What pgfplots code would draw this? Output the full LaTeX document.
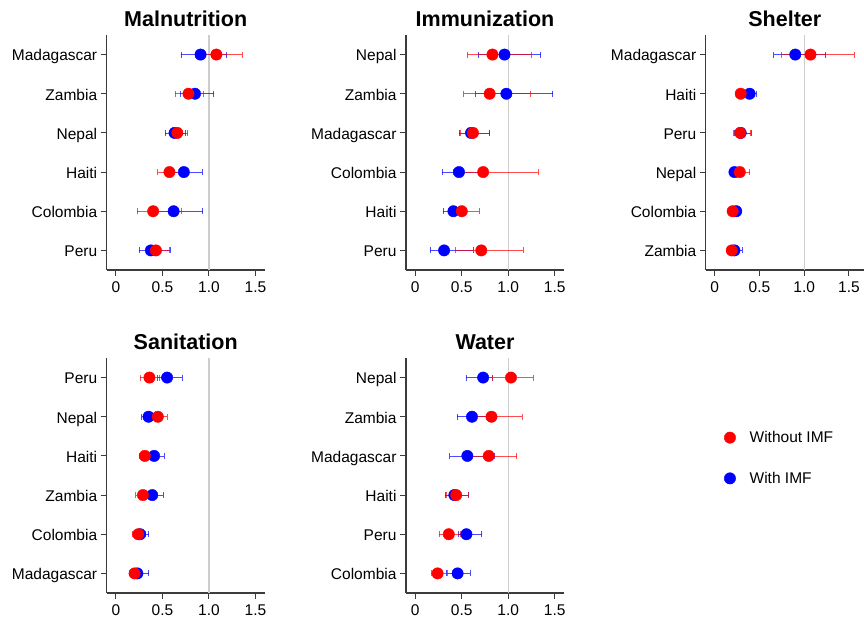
\documentclass[border=0pt]{standalone}
\usepackage{fontspec}
\setmainfont{Liberation Sans}
\usepackage{pgfplots}
\usepackage{pgfplotstable}
\pgfplotsset{compat=1.18}
\definecolor{axisgray}{RGB}{60,60,60}
\definecolor{refgray}{RGB}{205,205,205}

% y: category position (1 = bottom); r = Without IMF, b = With IMF; pt = estimate, lo/hi = interval
\pgfplotstableread{
y rpt rlo rhi bpt blo bhi
6 1.08 0.85 1.36 0.91 0.70 1.19
5 0.78 0.64 0.94 0.85 0.69 1.05
4 0.66 0.58 0.77 0.63 0.53 0.75
3 0.575 0.45 0.74 0.73 0.55 0.925
2 0.40 0.23 0.70 0.62 0.38 0.935
1 0.43 0.33 0.57 0.375 0.25 0.58
}\tabMal
\pgfplotstableread{
y rpt rlo rhi bpt blo bhi
6 0.83 0.56 1.25 0.96 0.68 1.35
5 0.80 0.52 1.24 0.98 0.65 1.48
4 0.62 0.48 0.80 0.60 0.47 0.80
3 0.73 0.41 1.32 0.47 0.29 0.70
2 0.50 0.36 0.69 0.41 0.30 0.55
1 0.71 0.43 1.16 0.31 0.16 0.62
}\tabImm
\pgfplotstableread{
y rpt rlo rhi bpt blo bhi
6 1.07 0.74 1.56 0.90 0.66 1.24
5 0.29 0.25 0.34 0.39 0.31 0.46
4 0.285 0.21 0.40 0.29 0.22 0.41
3 0.28 0.21 0.39 0.22 0.17 0.28
2 0.20 0.16 0.24 0.24 0.19 0.29
1 0.19 0.14 0.24 0.22 0.17 0.31
}\tabShe
\pgfplotstableread{
y rpt rlo rhi bpt blo bhi
6 0.36 0.26 0.47 0.55 0.45 0.71
5 0.45 0.36 0.55 0.35 0.275 0.42
4 0.31 0.25 0.36 0.41 0.34 0.52
3 0.29 0.21 0.375 0.39 0.33 0.51
2 0.24 0.175 0.32 0.26 0.20 0.35
1 0.20 0.14 0.25 0.23 0.175 0.35
}\tabSan
\pgfplotstableread{
y rpt rlo rhi bpt blo bhi
6 1.03 0.83 1.27 0.73 0.55 0.83
5 0.82 0.58 1.15 0.61 0.45 0.76
4 0.79 0.58 1.09 0.56 0.37 0.85
3 0.44 0.34 0.57 0.42 0.32 0.57
2 0.36 0.26 0.48 0.55 0.46 0.715
1 0.24 0.17 0.35 0.455 0.33 0.59
}\tabWat

\pgfplotsset{
  panel/.style={
    scale only axis, width=158pt, height=235pt,
    xmin=-0.1, xmax=1.6, ymin=0.5, ymax=6.5,
    axis lines=left,
    axis line style={-, draw=axisgray, line width=1.3pt},
    xtick={0,0.5,1,1.5}, xticklabels={0,0.5,1.0,1.5},
    ytick={1,2,3,4,5,6},
    tick align=outside, major tick length=6pt,
    tick style={draw=axisgray, line width=1pt},
    tick label style={font=\fontsize{15.5}{15.5}\selectfont, text=black},
    yticklabel style={anchor=base east, yshift=-6.3pt},
    xticklabel style={yshift=-2pt},
    title style={font=\fontsize{21.5}{21.5}\selectfont\bfseries, anchor=base, at={(0.5,1)}, yshift=2.5pt},
    clip=false,
    anchor=south west,
  },
  ref/.style={refgray, line width=1.3pt, forget plot},
  withimf/.style={only marks, mark=*, mark size=5.7pt, blue, mark options={draw=blue, fill=blue}, forget plot,
    error bars/x dir=both, error bars/x explicit, error bars/error mark=|,
    error bars/error bar style={blue, opacity=0.7, line width=0.8pt},
    error bars/error mark options={blue, opacity=0.7, mark size=3pt, line width=0.8pt}},
  withoutimf/.style={only marks, mark=*, mark size=5.7pt, red, mark options={draw=red, fill=red}, forget plot,
    error bars/x dir=both, error bars/x explicit, error bars/error mark=|,
    error bars/error bar style={red, opacity=0.7, line width=0.8pt},
    error bars/error mark options={red, opacity=0.7, mark size=3pt, line width=0.8pt}},
}
\newcommand{\series}[1]{%
  \addplot[ref] coordinates {(1,0.5) (1,6.5)};
  \addplot[withimf] table[x=bpt, y=y, x error minus expr=\thisrow{bpt}-\thisrow{blo}, x error plus expr=\thisrow{bhi}-\thisrow{bpt}] {#1};
  \addplot[withoutimf] table[x=rpt, y=y, x error minus expr=\thisrow{rpt}-\thisrow{rlo}, x error plus expr=\thisrow{rhi}-\thisrow{rpt}] {#1};
}

\begin{document}
\begin{tikzpicture}
\useasboundingbox (0,0) rectangle (864pt,617pt);

\begin{axis}[panel, at={(106.7pt,347pt)}, title={Malnutrition},
  yticklabels={Peru,Colombia,Haiti,Nepal,Zambia,Madagascar}]
\series{\tabMal}
\end{axis}

\begin{axis}[panel, at={(406pt,347pt)}, title={Immunization},
  yticklabels={Peru,Haiti,Colombia,Madagascar,Zambia,Nepal}]
\series{\tabImm}
\end{axis}

\begin{axis}[panel, at={(705.8pt,347pt)}, xmax=1.666, title={Shelter},
  yticklabels={Zambia,Colombia,Nepal,Peru,Haiti,Madagascar}]
\series{\tabShe}
\end{axis}

\begin{axis}[panel, at={(106.7pt,24pt)}, title={Sanitation},
  yticklabels={Madagascar,Colombia,Zambia,Haiti,Nepal,Peru}]
\series{\tabSan}
\end{axis}

\begin{axis}[panel, at={(406pt,24pt)}, title={Water},
  yticklabels={Colombia,Peru,Haiti,Madagascar,Zambia,Nepal},
  legend style={at={(1.994,0.706)}, anchor=north west, draw=none, fill=none,
    font=\fontsize{15.5}{15.5}\selectfont, row sep=24pt, column sep=12pt},
  legend cell align=left]
\addlegendimage{only marks, mark=*, mark size=5.7pt, red, mark options={draw=red, fill=red}}
\addlegendentry{Without IMF}
\addlegendimage{only marks, mark=*, mark size=5.7pt, blue, mark options={draw=blue, fill=blue}}
\addlegendentry{With IMF}
\series{\tabWat}
\end{axis}
\end{tikzpicture}
\end{document}
